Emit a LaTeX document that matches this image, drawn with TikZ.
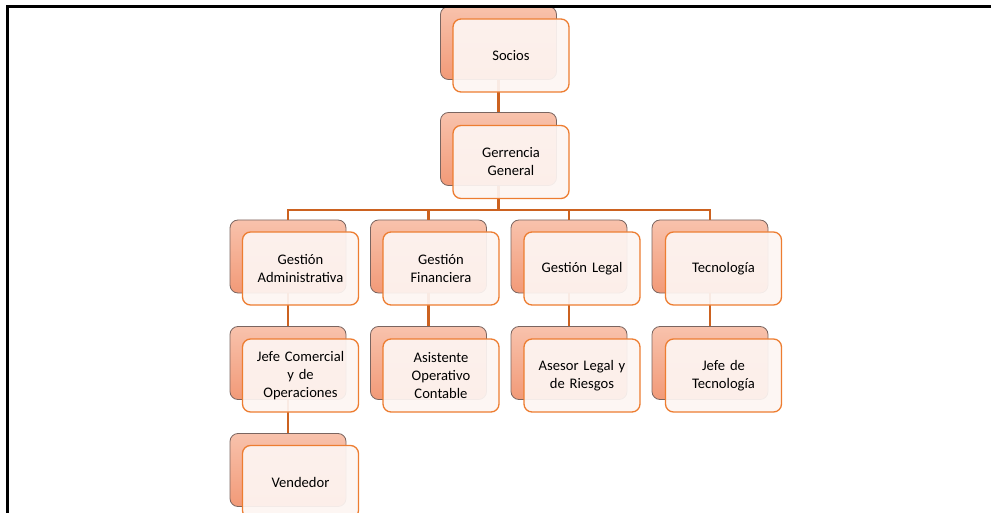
\documentclass[tikz,border=0pt]{standalone}
\usepackage{fontspec}
\setmainfont{Carlito}
\usetikzlibrary{positioning}
\definecolor{backtop}{HTML}{F8C2AC}
\definecolor{backbot}{HTML}{F29A78}
\definecolor{backline}{HTML}{7A6560}
\definecolor{frontfill}{HTML}{FDF5F2}
\definecolor{frontline}{HTML}{ED7D31}
\definecolor{connc}{HTML}{CC6220}
\tikzset{
  backbox/.style={draw=backline, line width=0.8pt, rounded corners=8pt,
    top color=backtop, bottom color=backbot, minimum width=116pt, minimum height=73pt, inner sep=0pt},
  frontbox/.style={draw=frontline, line width=1.3pt, rounded corners=8pt,
    fill=frontfill, fill opacity=0.93, text opacity=1, minimum width=116pt, minimum height=73pt,
    inner sep=0pt, align=center, text width=112pt,
    font=\fontsize{14.6pt}{18pt}\selectfont, text=black},
  conn/.style={draw=connc, line width=2.7pt}
}
\begin{document}
\begin{tikzpicture}[x=1pt,y=-1pt]
\useasboundingbox (0,0) rectangle (991,513);
\begin{scope}
\clip (0,0) rectangle (991,513);
% back boxes
\node[backbox] (b1) at (498.5,43) {};
\node[backbox] (b2) at (498.5,149) {};
\node[backbox] (b3) at (288,256.5) {};
\node[backbox] (b4) at (428.5,256.5) {};
\node[backbox] (b5) at (569,256.5) {};
\node[backbox] (b6) at (710,256.5) {};
\node[backbox] (b7) at (288,363) {};
\node[backbox] (b8) at (428.5,363) {};
\node[backbox] (b9) at (569,363) {};
\node[backbox] (b10) at (710,363) {};
\node[backbox] (b11) at (288,470) {};
% connectors
\draw[conn] (b1.south) -- (b2.north);
\draw[conn] (b2.south) -- ++(0,24) -| (b3.north);
\draw[conn] (b2.south) -- ++(0,24) -| (b4.north);
\draw[conn] (b2.south) -- ++(0,24) -| (b5.north);
\draw[conn] (b2.south) -- ++(0,24) -| (b6.north);
\draw[conn] (b3.south) -- (b7.north);
\draw[conn] (b4.south) -- (b8.north);
\draw[conn] (b5.south) -- (b9.north);
\draw[conn] (b6.south) -- (b10.north);
\draw[conn] (b7.south) -- (b11.north);
% front boxes
\node[frontbox] (f1) at (511,55.5) {Socios};
\node[frontbox] (f2) at (511,162) {Gerrencia\\General};
\node[frontbox] (f3) at (300.5,268.5) {Gestión\\Administrativa};
\node[frontbox] (f4) at (441,268.5) {Gestión\\Financiera};
\node[frontbox] (f5) at (582,268.5) {Gestión Legal};
\node[frontbox] (f6) at (723.5,268.5) {Tecnología};
\node[frontbox] (f7) at (300.5,375.5) {Jefe Comercial\\y de\\Operaciones};
\node[frontbox] (f8) at (441,375.5) {Asistente\\Operativo\\Contable};
\node[frontbox] (f9) at (582,375.5) {Asesor Legal y\\de Riesgos};
\node[frontbox] (f10) at (723.5,375.5) {Jefe de\\Tecnología};
\node[frontbox] (f11) at (300.5,482) {Vendedor};
\end{scope}
% frame
\draw[line width=2.6pt] (7.5,513) -- (7.5,6.5) -- (991,6.5);
\end{tikzpicture}
\end{document}
